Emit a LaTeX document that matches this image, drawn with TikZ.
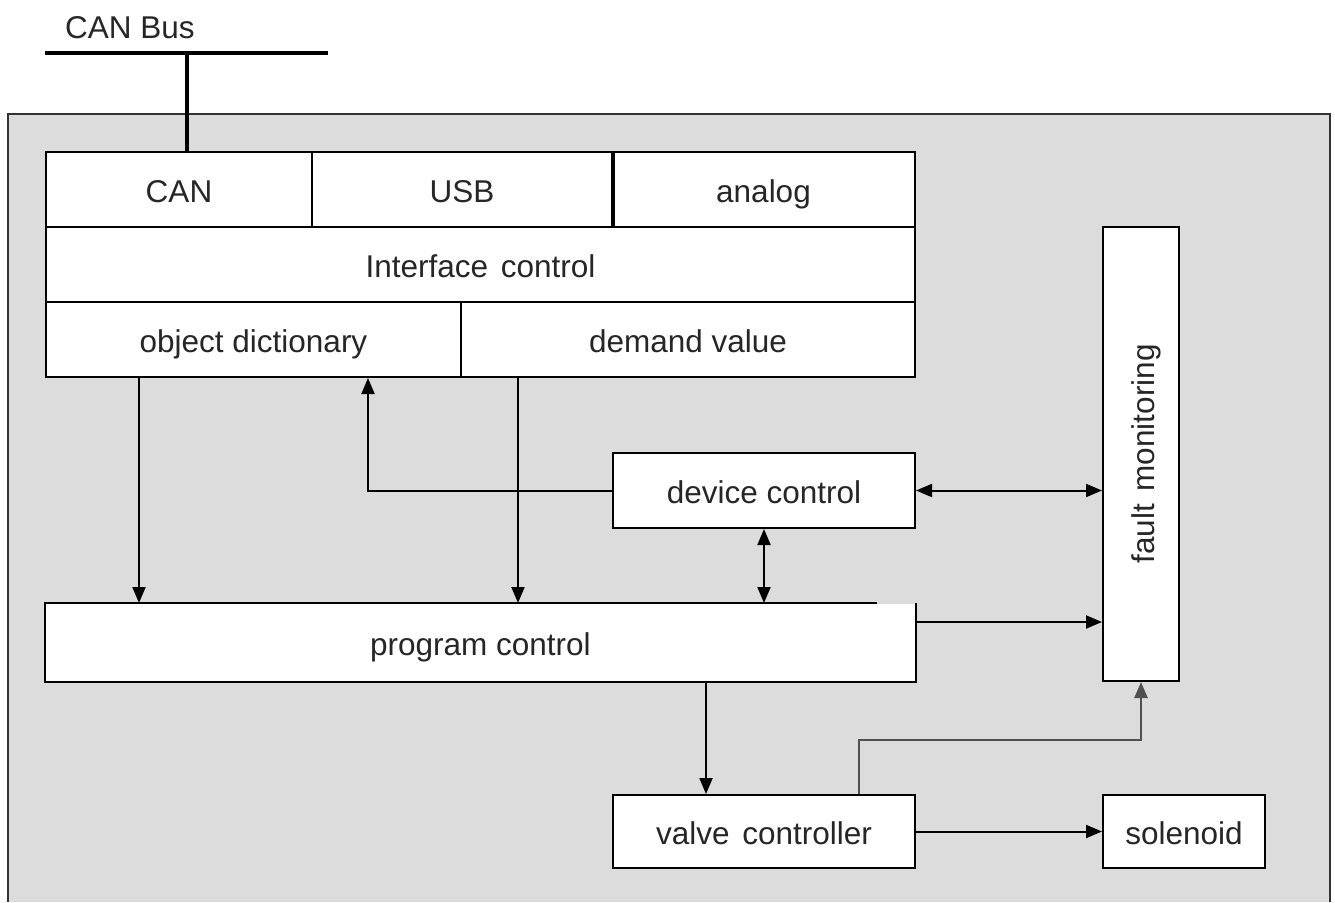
\documentclass[tikz,border=0pt]{standalone}
\usepackage{fontspec}
\setmainfont{Liberation Sans}
\usetikzlibrary{arrows.meta}
\definecolor{bggray}{HTML}{DCDCDC}
\definecolor{linkgray}{HTML}{505050}
\tikzset{
  txt/.style={font=\fontsize{31.5}{33}\selectfont, text=black!85, text height=29pt, text depth=2.4pt},
  blk/.style={txt, draw=black, fill=white, line width=2pt, inner sep=0pt},
  arr/.style={line width=2pt, -{Triangle[length=16pt,width=13pt]}},
  darr/.style={line width=2pt, {Triangle[length=16pt,width=13pt]}-{Triangle[length=16pt,width=13pt]}},
}
\newcommand{\wsp}{\hspace{0.4em}}
\begin{document}
\begin{tikzpicture}[x=1pt,y=-1pt]
\useasboundingbox (0,0) rectangle (1335,902);
% background panel
\fill[bggray] (8,114) rectangle (1330,902);
\draw[line width=2.4pt, black!80] (8,902) -- (8,114) -- (1330,114) -- (1330,902);
% CAN bus
\node[txt] (canbus) at (130,25) {CAN Bus};
\coordinate (busL) at (45,53);
\coordinate (busR) at (328,53);
\coordinate (drop) at (187,53);
\draw[line width=3.4pt] (busL) -- (busR);
% blocks
\node[blk, minimum width=266pt, minimum height=75pt] (can) at (179,189.5) {CAN};
\node[blk, minimum width=300pt, minimum height=75pt] (usb) at (462,189.5) {USB};
\node[blk, minimum width=303pt, minimum height=75pt] (analog) at (763.5,189.5) {analog};
\draw[line width=3.4pt] (usb.north east) -- (usb.south east);
\node[blk, minimum width=869pt, minimum height=75pt] (ifc) at (480.5,264.5) {Interface\wsp control};
\node[blk, minimum width=415pt, minimum height=75pt] (od) at (253.5,339.5) {object dictionary};
\node[blk, minimum width=454pt, minimum height=75pt] (dv) at (688,339.5) {demand value};
\node[blk, minimum width=302pt, minimum height=75pt] (dc) at (764,490.5) {device control};
\node[blk, minimum width=76pt, minimum height=454pt] (fm) at (1141,454) {};
\node[txt, rotate=90] (fmt) at (fm.center) {fault\wsp monitoring};
\node[blk, draw=none, minimum width=869pt, minimum height=77pt] (pc) at (480.5,642.5) {program control};
\draw[line width=2pt] ([xshift=-39pt]pc.north east) -- (pc.north west) -- (pc.south west) -- (pc.south east) -- (pc.north east);
\node[blk, minimum width=302pt, minimum height=73pt] (vc) at (764,831.5) {valve\wsp controller};
\node[blk, minimum width=162pt, minimum height=73pt] (sol) at (1184,831.5) {solenoid};
% bus drop
\draw[line width=3.4pt] (drop) -- (drop |- can.north);
% connectors
\draw[arr] ([xshift=94pt]od.south west) -- ([xshift=94pt]od.south west |- pc.north);
\draw[arr] ([xshift=58pt]dv.south west) -- ([xshift=58pt]dv.south west |- pc.north);
\draw[arr] (dc.west) -| ([xshift=114.5pt]od.south);
\draw[darr] (dc.east) -- (dc.east -| fm.west);
\draw[darr] (dc.south) -- (dc.south |- pc.north);
\draw[arr] ([yshift=-19pt]pc.north east) -- ([yshift=-19pt]pc.north east -| fm.west);
\draw[arr] ([xshift=-58pt]vc.north |- pc.south) -- ([xshift=-58pt]vc.north);
\coordinate (bendy) at (0,740);
\draw[arr, color=linkgray, line width=2.6pt] ([xshift=95pt]vc.north) |- (fm.south |- bendy) -- (fm.south);
\draw[arr] (vc.east) -- (sol.west);
\end{tikzpicture}
\end{document}
